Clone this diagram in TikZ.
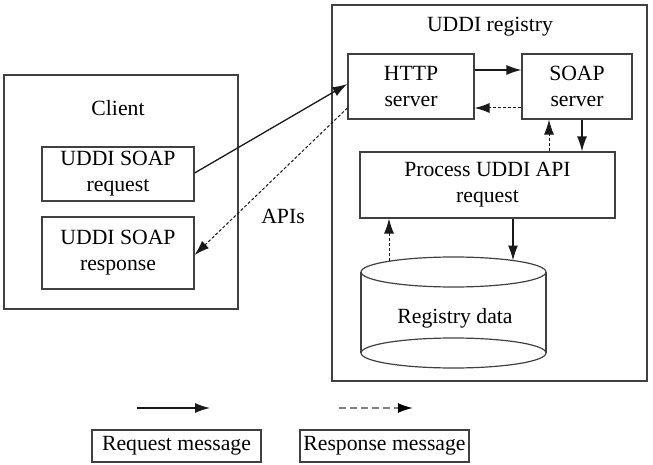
\documentclass[tikz,border=0pt]{standalone}
\usepackage{fontspec}
\setmainfont{Liberation Serif}
\usetikzlibrary{arrows.meta,calc}
\newcommand{\diagfont}{\fontsize{21.7}{26}\selectfont}
\begin{document}
\begin{tikzpicture}[x=1pt,y=-1pt,
  box/.style={draw=black!75, line width=1.2pt, rectangle, inner sep=0pt, align=center, font=\diagfont},
  lbl/.style={inner sep=0pt, align=center, font=\diagfont},
  req/.style={draw=black!90, line width=1.3pt, -{Latex[length=15pt,width=10pt]}},
  resp/.style={draw=black!90, line width=1pt, dash pattern=on 3pt off 2pt, -{Latex[length=15pt,width=10pt]}},
  legresp/.style={draw=black!50, line width=1.8pt, dash pattern=on 7pt off 4pt, -{Latex[length=15pt,width=10pt,fill=black,color=black]}}]
\useasboundingbox (0,0) rectangle (653,465);
% Client side
\node[box, minimum width=234pt, minimum height=234pt] (client) at (121,192) {};
\node[lbl] (clientlbl) at (118,108) {Client};
\node[box, minimum width=152pt, minimum height=54pt] (rq) at (118,174) {UDDI SOAP\\request};
\node[box, minimum width=152pt, minimum height=72pt] (rs) at (118,253) {UDDI SOAP\\response};
% Registry side
\node[box, minimum width=315pt, minimum height=376pt] (reg) at (489.5,193) {};
\node[lbl] (reglbl) at (490,27) {UDDI registry};
\node[box, minimum width=126pt, minimum height=65pt] (http) at (411,86.5) {HTTP\\server};
\node[box, minimum width=110pt, minimum height=65pt] (soap) at (577,86.5) {SOAP\\server};
\node[box, minimum width=255pt, minimum height=66pt] (proc) at (487.5,185) {Process UDDI API\\request};
% Cylinder
\draw[draw=black!75, line width=1.2pt] (453.5,272) ellipse [x radius=92.5, y radius=15];
\draw[draw=black!75, line width=1.2pt] (453.5,353) ellipse [x radius=92.5, y radius=15];
\draw[draw=black!75, line width=1.2pt] (361,272) -- (361,353) (546,272) -- (546,353);
\node[lbl] (db) at (455,318) {Registry data};
\coordinate (dbinA) at (513,260.5);
\coordinate (dboutB) at (389,261);
\node[lbl] (apis) at (283,216) {APIs};
% Connectors
\draw[req] (rq.east |- 0,173) -- (http.west |- 0,84);
\draw[resp] (http.west |- 0,108) -- (rs.east |- 0,255);
\draw[req] (http.east |- 0,70) -- (soap.west |- 0,70);
\draw[resp] (soap.west |- 0,108) -- (http.east |- 0,108);
\draw[req] (soap.south -| 582,0) -- (proc.north -| 582,0);
\draw[resp] (proc.north -| 549,0) -- (soap.south -| 549,0);
\draw[req] (proc.south -| 513,0) -- (dbinA);
\draw[resp] (dboutB) -- (proc.south -| 389,0);
% Legend
\coordinate (l1a) at (137,408);
\coordinate (l1b) at (210,408);
\coordinate (l2a) at (339,408);
\coordinate (l2b) at (413,408);
\draw[req] (l1a) -- (l1b);
\draw[legresp] (l2a) -- (l2b);
\node[box, minimum width=169pt, minimum height=32pt] (reqmsg) at (176.5,446) {Request message};
\node[box, minimum width=169pt, minimum height=32pt] (respmsg) at (384.5,446) {Response message};
\end{tikzpicture}
\end{document}
